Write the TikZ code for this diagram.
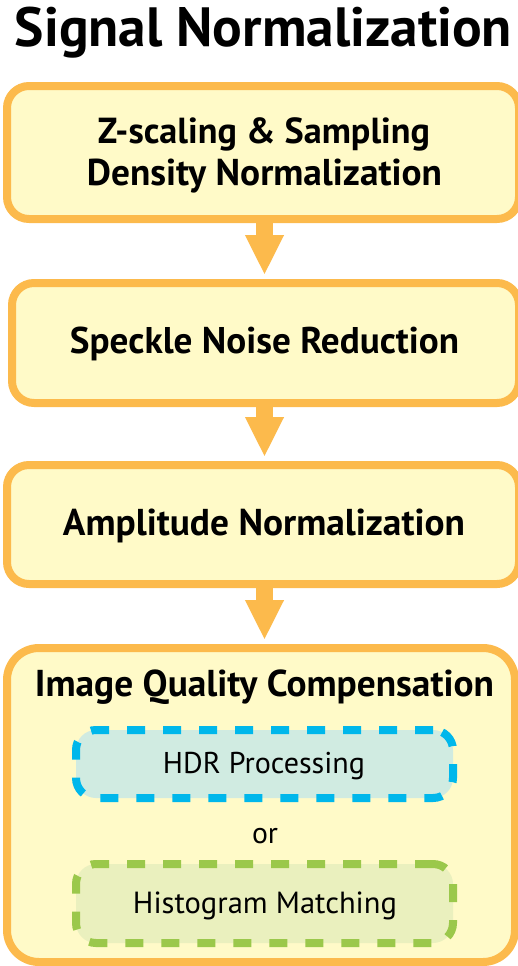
\documentclass[tikz,border=0pt]{standalone}
\usepackage{fontspec}
\setmainfont{PT Sans}
\usepackage{graphicx}
\usetikzlibrary{arrows.meta}
\definecolor{orangeline}{RGB}{252,186,76}
\definecolor{yellowfill}{RGB}{255,250,200}
\definecolor{cyanline}{RGB}{0,183,235}
\definecolor{tealfill}{RGB}{208,235,225}
\definecolor{greenline}{RGB}{155,200,75}
\definecolor{greenfill}{RGB}{234,240,190}
\tikzset{
  mainbox/.style={draw=orangeline, fill=yellowfill, line width=8pt, rounded corners=22pt, inner sep=0pt},
  bigbox/.style={mainbox, rounded corners=32pt},
  dashbox/.style={line width=8pt, rounded corners=20pt, inner sep=0pt, dash pattern=on 18pt off 18pt},
  hdrbox/.style={dashbox, draw=cyanline, fill=tealfill},
  histbox/.style={dashbox, draw=greenline, fill=greenfill},
  txt/.style={anchor=base, inner sep=0pt, outer sep=0pt},
  flowarrow/.style={draw=orangeline, line width=17pt, -{Triangle[width=36pt,length=40pt]}, shorten >=4pt}
}
\newcommand{\fitbold}[2]{\resizebox{#1}{!}{\bfseries #2}}
\newcommand{\fitreg}[2]{\resizebox{#1}{!}{#2}}
\begin{document}
\begin{tikzpicture}[x=1pt,y=-1pt]
\useasboundingbox (0,0) rectangle (518,966);
% title
\node[txt] (title) at (263.5,47) {\fitbold{497pt}{Signal Normalization}};
% boxes
\node[mainbox, minimum width=512pt, minimum height=133pt] (b1) at (263,152.5) {};
\node[mainbox, minimum width=507pt, minimum height=120pt] (b2) at (265.5,343) {};
\node[mainbox, minimum width=512pt, minimum height=119pt] (b3) at (263,524.5) {};
\node[bigbox, minimum width=508pt, minimum height=314pt] (b4) at (261,805) {};
% texts
\node[txt] (t1a) at (264,143) {\fitbold{332pt}{Z-scaling \& Sampling}};
\node[txt] (t1b) at (264.5,185) {\fitbold{355pt}{Density Normalization}};
\node[txt] (t2) at (264.5,353) {\fitbold{389pt}{Speckle Noise Reduction}};
\node[txt] (t3) at (264,535) {\fitbold{402pt}{Amplitude Normalization}};
\node[txt] (t4) at (264.5,696) {\fitbold{459pt}{Image Quality Compensation}};
% inner options
\node[hdrbox, minimum width=377pt, minimum height=68pt] (hdr) at (264.5,764) {};
\node[txt] (thdr) at (264,773) {\fitreg{202pt}{HDR Processing}};
\node[txt] (or) at (265,843) {\fitreg{26pt}{or}};
\node[histbox, minimum width=377pt, minimum height=79pt] (hist) at (264.5,903.5) {};
\node[txt] (thist) at (265,913) {\fitreg{264pt}{Histogram Matching}};
% arrows
\coordinate (ax) at (264.5,0);
\draw[flowarrow] (b1.south -| ax) -- (b2.north -| ax);
\draw[flowarrow] (b2.south -| ax) -- (b3.north -| ax);
\draw[flowarrow] (b3.south -| ax) -- (b4.north -| ax);
\end{tikzpicture}
\end{document}
